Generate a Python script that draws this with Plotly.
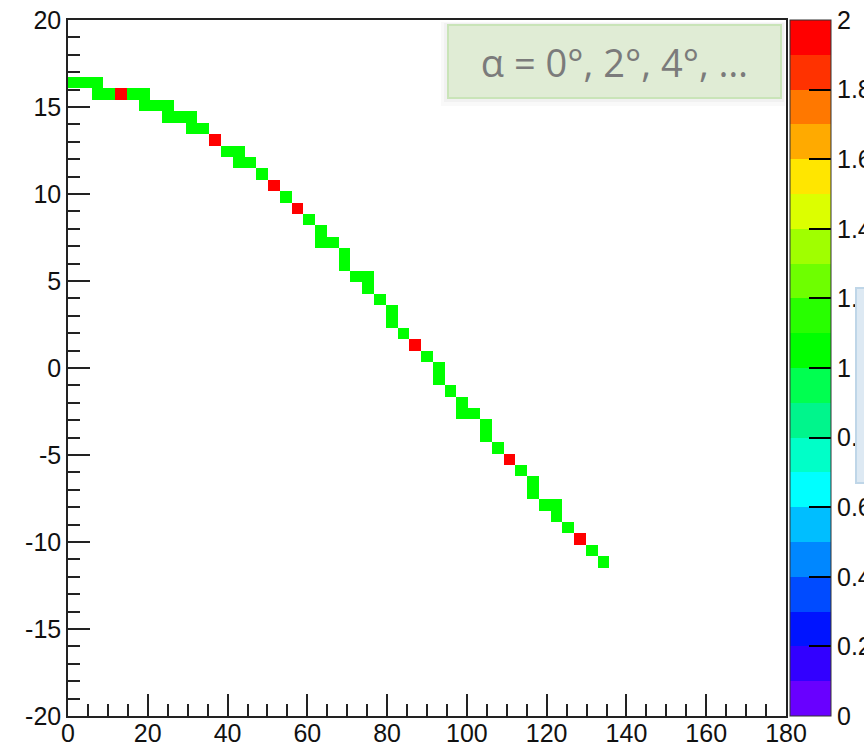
import numpy as np
import plotly.graph_objects as go

# Histogram binning: angle axis [0, 180] deg, r axis [-20, 20], 61 x 61 bins
N_BINS = 61
ALPHA_RANGE = (0.0, 180.0)
R_RANGE = (-20.0, 20.0)

# Filled cells (bin centres) and their entry counts
alpha_deg = [1.48, 4.43, 7.38, 7.38, 10.33, 13.28, 16.23, 19.18, 19.18, 22.13,
             25.08, 25.08, 28.03, 30.98, 30.98, 33.93, 36.89, 39.84, 42.79, 42.79,
             45.74, 48.69, 51.64, 54.59, 57.54, 60.49, 63.44, 63.44, 66.39, 69.34,
             69.34, 72.30, 75.25, 75.25, 78.20, 81.15, 81.15, 84.10, 87.05, 90.00,
             92.95, 92.95, 95.90, 98.85, 98.85, 101.80, 104.75, 104.75, 107.70, 110.66,
             113.61, 116.56, 116.56, 119.51, 122.46, 122.46, 125.41, 128.36, 131.31, 134.26]
r_val = [16.39, 16.39, 16.39, 15.74, 15.74, 15.74, 15.74, 15.74, 15.08, 15.08,
         15.08, 14.43, 14.43, 14.43, 13.77, 13.77, 13.11, 12.46, 12.46, 11.80,
         11.80, 11.15, 10.49, 9.84, 9.18, 8.52, 7.87, 7.21, 7.21, 6.56,
         5.90, 5.25, 5.25, 4.59, 3.93, 3.28, 2.62, 1.97, 1.31, 0.66,
         0.00, -0.66, -1.31, -1.97, -2.62, -2.62, -3.28, -3.93, -4.59, -5.25,
         -5.90, -6.56, -7.21, -7.87, -7.87, -8.52, -9.18, -9.84, -10.49, -11.15]
counts = [1, 1, 1, 1, 1, 2, 1, 1, 1, 1,
          1, 1, 1, 1, 1, 1, 2, 1, 1, 1,
          1, 1, 2, 1, 2, 1, 1, 1, 1, 1,
          1, 1, 1, 1, 1, 1, 1, 1, 2, 1,
          1, 1, 1, 1, 1, 1, 1, 1, 1, 2,
          1, 1, 1, 1, 1, 1, 1, 2, 1, 1]

# Axis labels
x_ticks = [0, 20, 40, 60, 80, 100, 120, 140, 160, 180]
y_ticks = [-20, -15, -10, -5, 0, 5, 10, 15, 20]
y_tick_text = ["-20", "-15", "-10", "-5", "0", "5", "10", "15", "20"]

# Colour-bar axis
z_ticks = [0, 0.2, 0.4, 0.6, 0.8, 1.0, 1.2, 1.4, 1.6, 1.8, 2.0]
z_tick_text = ["0", "0.2", "0.4", "0.6", "0.8", "1", "1.2", "1.4", "1.6", "1.8", "2"]

# 20-level rainbow palette, low to high
palette = ["rgb(105,0,255)", "rgb(50,0,255)", "rgb(0,20,255)", "rgb(0,75,255)",
           "rgb(0,135,255)", "rgb(0,190,255)", "rgb(0,255,255)", "rgb(0,255,200)",
           "rgb(0,245,140)", "rgb(0,255,80)", "rgb(0,255,0)", "rgb(40,255,0)",
           "rgb(110,255,0)", "rgb(160,255,0)", "rgb(220,255,0)", "rgb(255,230,0)",
           "rgb(255,170,0)", "rgb(255,120,0)", "rgb(255,50,0)", "rgb(255,0,0)"]

# --- fill the 2D grid -------------------------------------------------------
dx = (ALPHA_RANGE[1] - ALPHA_RANGE[0]) / N_BINS
dy = (R_RANGE[1] - R_RANGE[0]) / N_BINS
x_centres = ALPHA_RANGE[0] + (np.arange(N_BINS) + 0.5) * dx
y_centres = R_RANGE[0] + (np.arange(N_BINS) + 0.5) * dy
grid = [[None] * N_BINS for _ in range(N_BINS)]
for a, r, c in zip(alpha_deg, r_val, counts):
    i = int((a - ALPHA_RANGE[0]) // dx)
    j = int((r - R_RANGE[0]) // dy)
    grid[j][i] = c

# stepped colour scale (each level a flat band)
n = len(palette)
colorscale = []
for k, col in enumerate(palette):
    lo = 0.0 if k == 0 else k / n - 1e-6
    hi = 1.0 if k == n - 1 else (k + 1) / n - 1e-6
    colorscale.append([lo, col])
    colorscale.append([hi, col])

# --- layout geometry (pixels) ----------------------------------------------
W, H = 864, 751
ML, MR, MT, MB = 68, 78, 20, 35
PW, PH = W - ML - MR, H - MT - MB


def px_x(px):
    return (px - ML) / PW


def px_y(py):
    return (H - MB - py) / PH


tick_font = dict(family="Liberation Sans, Arial, sans-serif", size=25, color="#111")

fig = go.Figure()
fig.add_trace(go.Heatmap(
    x=x_centres, y=y_centres, z=grid,
    zmin=0, zmax=2, colorscale=colorscale, hoverongaps=False,
    colorbar=dict(
        x=px_x(790), xanchor="left",
        y=0.5, yanchor="middle",
        thickness=41, thicknessmode="pixels",
        len=1, lenmode="fraction",
        xpad=0, ypad=0,
        outlinewidth=1, outlinecolor="#333",
        tickmode="array", tickvals=z_ticks, ticktext=z_tick_text,
        ticks="inside", ticklen=22, tickwidth=1.5, tickcolor="black",
        tickfont=tick_font,
    ),
))

axis_common = dict(
    showgrid=False, zeroline=False,
    showline=True, linecolor="#222", linewidth=1.5, mirror=True,
    ticks="inside", ticklen=22, tickwidth=1.5, tickcolor="#222",
    tickfont=tick_font,
)
fig.update_xaxes(range=list(ALPHA_RANGE), tickmode="array", tickvals=x_ticks,
                 ticklabelstandoff=-6,
                 minor=dict(dtick=5, tick0=0, ticks="inside", ticklen=12, tickwidth=1.5,
                            tickcolor="#222", showgrid=False),
                 **axis_common)
fig.update_yaxes(range=list(R_RANGE), tickmode="array", tickvals=y_ticks,
                 ticktext=y_tick_text,
                 minor=dict(dtick=1, tick0=0, ticks="inside", ticklen=12, tickwidth=1.5,
                            tickcolor="#222", showgrid=False),
                 **axis_common)

# soft shadow behind the label box
shapes = [
    dict(type="rect", xref="paper", yref="paper",
         x0=px_x(441), x1=px_x(785), y0=px_y(106), y1=px_y(22),
         fillcolor="rgba(0,0,0,0.025)", line=dict(width=0), layer="above"),
    dict(type="rect", xref="paper", yref="paper",
         x0=px_x(444), x1=px_x(784), y0=px_y(102), y1=px_y(23),
         fillcolor="rgba(0,0,0,0.03)", line=dict(width=0), layer="above"),
]

annotations = [
    dict(text="α = 0°, 2°, 4°, …", xref="paper", yref="paper",
         x=px_x(614), y=px_y(61.7), xanchor="center", yanchor="middle",
         showarrow=False, width=331, height=71, borderpad=0,
         bgcolor="#e0ecd5", bordercolor="#c9e4b8", borderwidth=2,
         font=dict(family="Open Sans, sans-serif", size=38, color="#7b7b7b")),
    dict(text="\u00a0", xref="paper", yref="paper",
         x=px_x(855), y=px_y(385.7), xanchor="left", yanchor="middle",
         showarrow=False, width=60, height=193, borderpad=0,
         bgcolor="#dde9f3", bordercolor="#bfd6e8", borderwidth=2),
]

fig.update_layout(
    width=W, height=H,
    margin=dict(l=ML, r=MR, t=MT, b=MB, autoexpand=False),
    paper_bgcolor="white", plot_bgcolor="white",
    shapes=shapes, annotations=annotations,
    showlegend=False,
)

fig.write_html("out.html")
